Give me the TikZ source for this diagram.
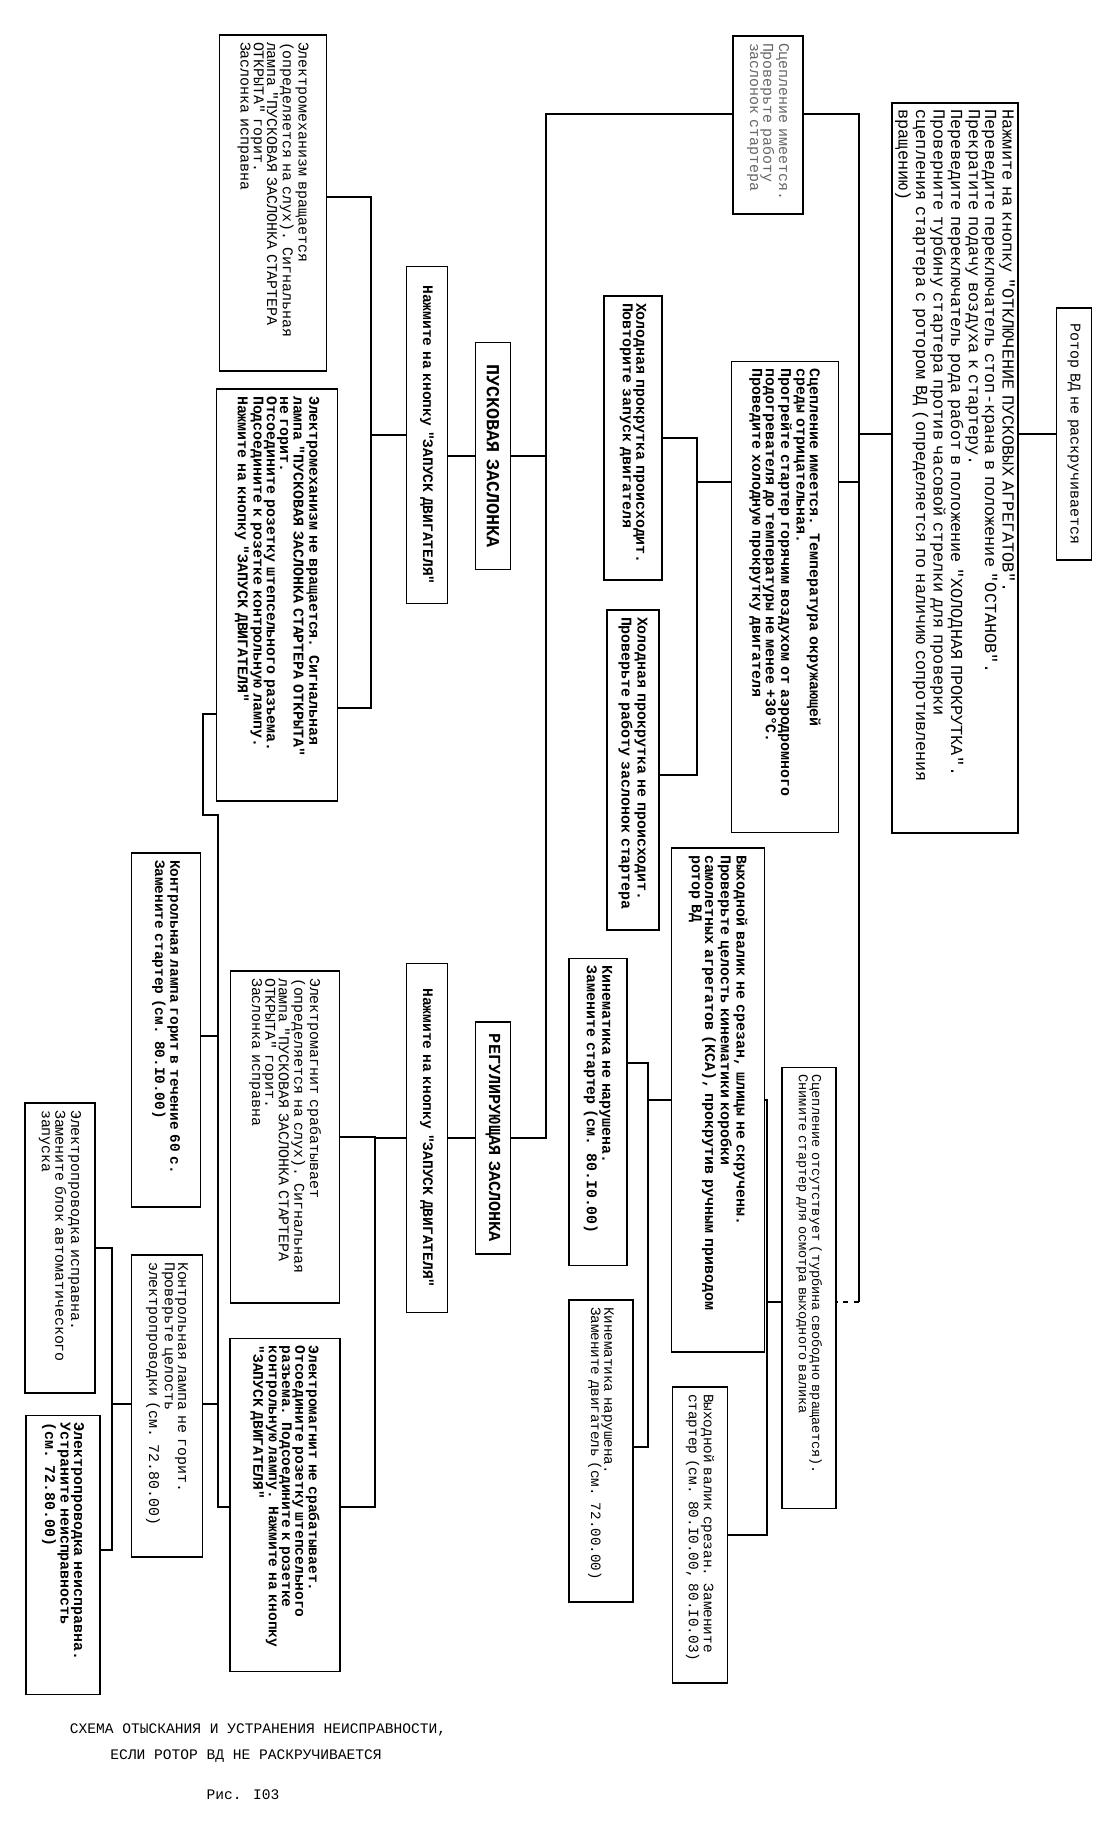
\documentclass[tikz,border=0pt]{standalone}
\usepackage{fontspec}
\newfontfamily\tw{Liberation Mono}
\tikzset{
  card/.style={draw, line width=1.1pt, rotate=-90, align=left, inner xsep=4pt, inner ysep=2pt,
    font=\tw\fontsize{#1}{7.6}\selectfont},
  card/.default=8.5,
  link/.style={line width=1.1pt},
  caption/.style={font=\tw\fontsize{8.3}{10}\selectfont, inner sep=0pt},
}
\begin{document}
\begin{tikzpicture}[x=0.02cm,y=-0.02cm]
\useasboundingbox (0,0) rectangle (1111,1821);

% root and checks of the starter
\node[card, align=center, text width=4.76cm, minimum height=0.70cm] (rotor) at (1074,434) {Ротор ВД не раскручивается};
\node[card, font=\tw\fontsize{9.6}{7.9}\selectfont, text width=14.34cm, minimum height=2.18cm] (otkl) at (955,468)
  {Нажмите на кнопку "ОТКЛЮЧЕНИЕ ПУСКОВЫХ АГРЕГАТОВ".\\
   Переведите переключатель стоп-крана в положение "ОСТАНОВ".\\
   Прекратите подачу воздуха к стартеру.\\
   Переведите переключатель рода работ в положение "ХОЛОДНАЯ ПРОКРУТКА".\\
   Проверните турбину стартера против часовой стрелки для проверки\\
   сцепления стартера с ротором ВД (определяется по наличию сопротивления\\
   вращению)};
\node[card, text=black!60, text width=3.28cm, minimum height=1.40cm] (sc1) at (768,125)
  {Сцепление имеется.\\Проверьте работу\\заслонок стартера};
\node[card, text width=9.14cm, minimum height=2.14cm] (warm) at (785,597)
  {\bfseries Сцепление имеется. Температура окружающей\\
   среды отрицательная.\\
   Прогрейте стартер горячим воздухом от аэродромного\\
   подогревателя до температуры не менее +30°С.\\
   Проведите холодную прокрутку двигателя};
\node[card, text width=5.40cm, minimum height=1.16cm] (cold) at (633,438)
  {\bfseries Холодная прокрутка происходит.\\Повторите запуск двигателя};
\node[card, text width=6.12cm, minimum height=1.04cm] (nocold) at (633,770)
  {\bfseries Холодная прокрутка не происходит.\\Проверьте работу заслонок стартера};
\node[card, text width=9.80cm, minimum height=1.86cm] (shaft) at (718,1100)
  {\bfseries Выходной валик не срезан, шлицы не скручены.\\
   Проверьте целость кинематики коробки\\
   самолетных агрегатов (КСА), прокрутив ручным приводом\\
   ротор ВД};
\node[card=7.7, text width=8.54cm, minimum height=1.08cm] (nosc) at (809,1288)
  {Сцепление отсутствует (турбина свободно вращается).\\
   Снимите стартер для осмотра выходного валика};
\node[card, text width=5.86cm, minimum height=1.16cm] (kinok) at (598,1112)
  {\bfseries Кинематика не нарушена.\\Замените стартер (см. 80.I0.00)};
\node[card=8.1, text width=5.76cm, minimum height=1.28cm] (kinbad) at (601,1451)
  {Кинематика нарушена.\\Замените двигатель (см. 72.00.00)};
\node[card=8.2, text width=5.64cm, minimum height=1.10cm] (cut) at (700,1535)
  {Выходной валик срезан. Замените\\стартер (см. 80.I0.00, 80.I0.03)};

% starting flap
\node[card=10.5, align=center, text width=4.26cm, minimum height=0.70cm] (pusk) at (493,456) {\bfseries ПУСКОВАЯ ЗАСЛОНКА};
\node[card=8.3, align=center, text width=6.46cm, minimum height=0.82cm] (press1) at (427,435) {\bfseries Нажмите на кнопку "ЗАПУСК ДВИГАТЕЛЯ"};
\node[card, text width=6.44cm, minimum height=2.14cm] (emok) at (273,203)
  {Электромеханизм вращается\\
   (определяется на слух). Сигнальная\\
   лампа "ПУСКОВАЯ ЗАСЛОНКА СТАРТЕРА\\
   ОТКРЫТА" горит.\\
   Заслонка исправна};
\node[card, text width=7.96cm, minimum height=2.42cm] (emfail) at (277,595)
  {\bfseries Электромеханизм не вращается. Сигнальная\\
   лампа "ПУСКОВАЯ ЗАСЛОНКА СТАРТЕРА ОТКРЫТА"\\
   не горит.\\
   Отсоедините розетку штепсельного разъема.\\
   Подсоедините к розетке контрольную лампу.\\
   Нажмите на кнопку "ЗАПУСК ДВИГАТЕЛЯ"};

% regulating flap
\node[card=9.6, align=center, text width=4.36cm, minimum height=0.70cm] (reg) at (493,1138) {\bfseries РЕГУЛИРУЮЩАЯ ЗАСЛОНКА};
\node[card=8.3, align=center, text width=6.70cm, minimum height=0.82cm] (press2) at (427,1138) {\bfseries Нажмите на кнопку "ЗАПУСК ДВИГАТЕЛЯ"};
\node[card, text width=6.36cm, minimum height=2.18cm] (magok) at (285,1137)
  {Электромагнит срабатывает\\
   (определяется на слух). Сигнальная\\
   лампа "ПУСКОВАЯ ЗАСЛОНКА СТАРТЕРА\\
   ОТКРЫТА" горит.\\
   Заслонка исправна};
\node[card=8.3, text width=6.38cm, minimum height=2.20cm] (magfail) at (285,1505)
  {\bfseries Электромагнит не срабатывает.\\
   Отсоедините розетку штепсельного\\
   разъема. Подсоедините к розетке\\
   контрольную лампу. Нажмите на кнопку\\
   "ЗАПУСК ДВИГАТЕЛЯ"};

% control lamp and wiring
\node[card=8.2, text width=6.80cm, minimum height=1.38cm] (lampon) at (166,1030)
  {\bfseries Контрольная лампа горит в течение 60 с.\\Замените стартер (см. 80.I0.00)};
\node[card, text width=5.76cm, minimum height=1.42cm] (lampoff) at (167,1406)
  {Контрольная лампа не горит.\\Проверьте целость\\электропроводки (см. 72.80.00)};
\node[card, text width=5.52cm, minimum height=1.40cm] (wok) at (60,1248)
  {Электропроводка исправна.\\Замените блок автоматического\\запуска};
\node[card, text width=5.30cm, minimum height=1.48cm] (wbad) at (63,1555)
  {\bfseries Электропроводка неисправна.\\Устраните неисправность\\(см. 72.80.00)};

% caption
\node[caption] (cap1) at (258,1730) {СХЕМА ОТЫСКАНИЯ И УСТРАНЕНИЯ НЕИСПРАВНОСТИ,};
\node[caption] (cap2) at (246,1756) {ЕСЛИ РОТОР ВД НЕ РАСКРУЧИВАЕТСЯ};
\node[caption] (cap3) at (243,1795) {Рис. I03};

% trunks
\coordinate (j1) at (859,114);
\coordinate (j2) at (859,1302);
\coordinate (j3) at (546,114);
\coordinate (j4) at (546,1138);
\coordinate (j5) at (859,482);
\coordinate (j6) at (697,438);
\coordinate (j7) at (697,775);
\coordinate (j8) at (697,482);
\coordinate (k1) at (767,1100);
\coordinate (k2) at (767,1535);
\coordinate (k3) at (648,1063);
\coordinate (k4) at (648,1447);
\coordinate (m1) at (371,197);
\coordinate (m2) at (371,708);
\coordinate (m3) at (375,1137);
\coordinate (m4) at (375,1507);
\coordinate (n1) at (203,714);
\coordinate (n2) at (203,815);
\coordinate (n3) at (218,815);
\coordinate (n4) at (218,1507);
\coordinate (n5) at (218,1036);
\coordinate (n6) at (218,1404);
\coordinate (p1) at (112,1248);
\coordinate (p2) at (112,1550);
\coordinate (p3) at (112,1404);

% connectors
\draw[link] (rotor.south) -- (rotor.south -| otkl.north);
\draw[link] (otkl.south |- rotor.south) -- (j1 |- rotor.south);
\draw[link] (sc1.north |- j1) -- (j1) -- (j2);
\draw[link, dashed] (j2) -- (j2 -| nosc.north);
\draw[link] (j5) -- (j5 -| warm.north);
\draw[link] (sc1.south |- j1) -- (j3) -- (j4) -- (j4 -| reg.north);
\draw[link] (pusk.north) -- (pusk.north -| j3);
\draw[link] (cold.north |- j6) -- (j6) -- (j7) -- (j7 -| nocold.north);
\draw[link] (j8) -- (j8 -| warm.south);
\draw[link] (shaft.north |- k1) -- (k1) -- (k2) -- (k2 -| cut.north);
\draw[link] (k1 |- j2) -- (j2 -| nosc.south);
\draw[link] (shaft.south |- k1) -- (k1 -| k3);
\draw[link] (kinok.north |- k3) -- (k3) -- (k4) -- (k4 -| kinbad.north);
\draw[link] (pusk.south) -- (pusk.south -| press1.north);
\draw[link] (emok.north |- m1) -- (m1) -- (m2) -- (m2 -| emfail.north);
\draw[link] (press1.south) -- (press1.south -| m1);
\draw[link] (reg.south) -- (reg.south -| press2.north);
\draw[link] (magok.north |- m3) -- (m3) -- (m4) -- (m4 -| magfail.north);
\draw[link] (press2.south) -- (press2.south -| m3);
\draw[link] (emfail.south |- n1) -- (n1) -- (n2) -- (n3) -- (n4) -- (n4 -| magfail.south);
\draw[link] (n5 -| lampon.north) -- (n5);
\draw[link] (n6 -| lampoff.north) -- (n6);
\draw[link] (wok.north |- p1) -- (p1) -- (p2) -- (p2 -| wbad.north);
\draw[link] (lampoff.south |- p3) -- (p3);
\end{tikzpicture}
\end{document}
